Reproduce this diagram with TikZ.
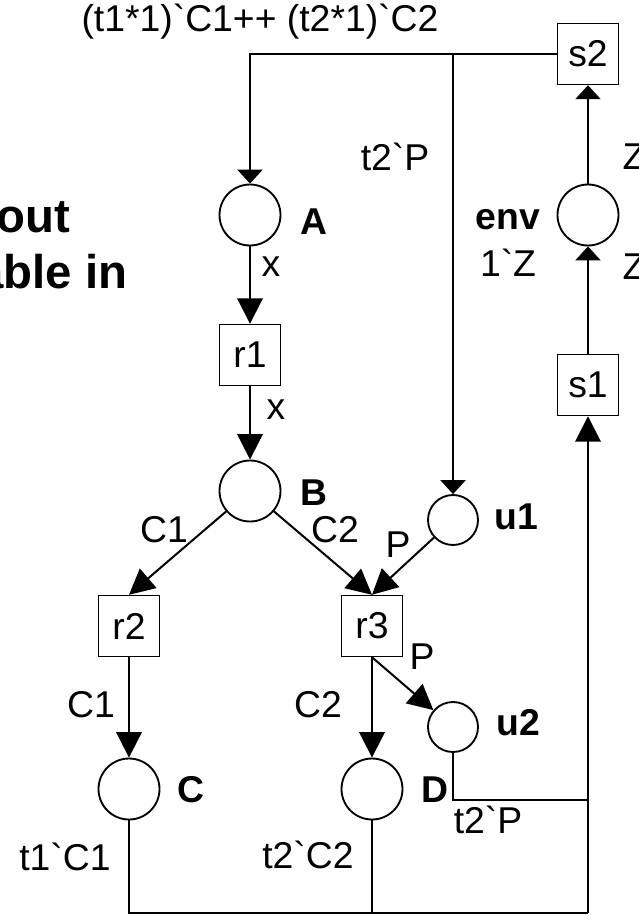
\documentclass[tikz,border=0pt]{standalone}
\usepackage{fontspec}
\setmainfont{Liberation Sans}
\usetikzlibrary{arrows.meta}

% grave accent as printed in the arc inscriptions
\newcommand{\bqt}{\textasciigrave}

\begin{document}
\begin{tikzpicture}[x=0.75pt,y=-0.75pt,
    every node/.style={font=\fontsize{28}{32}\selectfont},
    place/.style={circle, draw, line width=1.4pt,
                  minimum size=45.75pt, inner sep=0pt},
    small place/.style={place, minimum size=37.5pt},
    trans/.style={rectangle, draw, line width=1.1pt,
                  minimum size=45.75pt, inner sep=0pt},
    pname/.style={font=\fontsize{28}{32}\selectfont\bfseries},
    flow/.style={-{Triangle[length=19pt,width=19pt]}, line width=1.5pt},
    thinflow/.style={-{Triangle[length=10.5pt,width=19pt]}, line width=0.8pt},
    wire/.style={line width=1.6pt},
    ]

    \useasboundingbox (0,0) rectangle (639,915);

    % places and transitions
    \node[trans] (s2) at (588,54) {s2};
    \node[place] (env) at (588,215) {};
    \node[trans] (s1) at (588,385) {s1};
    \node[place] (A) at (250,215) {};
    \node[trans] (r1) at (250,355) {r1};
    \node[place] (B) at (250,491) {};
    \node[small place] (u1) at (453,520) {};
    \node[trans] (r2) at (129,626) {r2};
    \node[trans] (r3) at (372,626) {r3};
    \node[small place] (u2) at (453,727) {};
    \node[place] (C) at (129,789) {};
    \node[place] (D) at (372,789) {};

    % corners of the return lines
    \coordinate (fork) at (s2.west -| u1);
    \coordinate (u2corner) at (453,800);
    \coordinate (u2join) at (588,800);
    \coordinate (cbot) at (129,913);
    \coordinate (dbot) at (372,913);
    \coordinate (sbot) at (588,913);

    % place names
    \node[pname] (nA) at (314,222) {A};
    \node[pname] (nB) at (314,493) {B};
    \node[pname] (nC) at (191,790) {C};
    \node[pname] (nD) at (435,790) {D};
    \node[pname] (nu1) at (516,517) {u1};
    \node[pname] (nu2) at (518,723) {u2};
    \node[pname] (nenv) at (508,220) {env};
    \node (menv) at (508,263) {1\bqt Z};

    % text running in from the left
    \node[font=\fontsize{35.5}{40}\selectfont\bfseries, anchor=base east]
        (side1) at (75,232) {out};
    \node[font=\fontsize{35.5}{40}\selectfont\bfseries, anchor=base east]
        (side2) at (132,288) {able in};

    % arcs
    \draw[thinflow] (s2.west) -- (s2.west -| A) -- (A);
    \draw[thinflow] (fork) -- (u1);
    \draw[thinflow] (env) -- (s2);
    \draw[thinflow] (s1) -- (env);
    \draw[flow] (A) -- (r1);
    \draw[flow] (r1) -- (B);
    \draw[flow] (B) -- (r2.north);
    \draw[flow] (B) -- (r3.north);
    \draw[flow] (u1) -- (r3.north);
    \draw[flow] (r3.south) -- (u2);
    \draw[flow] (r3) -- (D);
    \draw[flow] (r2) -- (C);
    \draw[wire] (C) -- (cbot) -- (sbot);
    \draw[wire] (D) -- (dbot);
    \draw[wire] (u2) -- (u2corner) -- (u2join);
    \draw[flow] (sbot) -- (s1);

    % arc inscriptions
    \node (i1) at (260,22) {(t1*1)\bqt C1++ (t2*1)\bqt C2};
    \node (i2) at (395,157) {t2\bqt P};
    \node[anchor=west] (i3) at (618,157) {Z};
    \node[anchor=west] (i4) at (618,267) {Z};
    \node (i5) at (271,267) {x};
    \node (i6) at (276,410) {x};
    \node (i7) at (164,530) {C1};
    \node (i8) at (335,530) {C2};
    \node (i9) at (398,545) {P};
    \node (i10) at (422,657) {P};
    \node (i11) at (91,705) {C1};
    \node (i12) at (318,705) {C2};
    \node (i13) at (488,820) {t2\bqt P};
    \node (i14) at (65,857) {t1\bqt C1};
    \node (i15) at (308,855) {t2\bqt C2};

\end{tikzpicture}
\end{document}
